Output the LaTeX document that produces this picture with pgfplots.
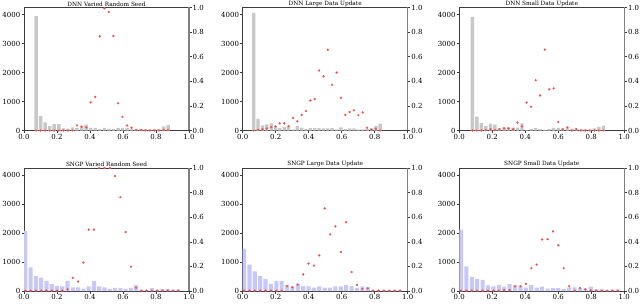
\documentclass[border=0pt]{standalone}
\usepackage{pgfplots}
\usepackage{pgfplotstable}
\pgfplotsset{compat=1.18}
\usepackage{fontspec}
\setmainfont{DejaVu Serif}
\definecolor{dnnbar}{RGB}{200,200,200}
\definecolor{sngpbar}{RGB}{200,200,248}
\definecolor{ptred}{RGB}{238,30,30}
\definecolor{spine}{RGB}{60,60,60}

\pgfplotstableread{
x bar pt
0.073 3950 0.0
0.101 500 0.0
0.128 284 0.0
0.156 150 0.0
0.183 220 0.0
0.211 220 0.0
0.239 70 0.0
0.266 60 0.0
0.294 110 0.0
0.321 80 0.041
0.349 170 0.030
0.377 200 0.025
0.404 90 0.229
0.432 90 0.273
0.459 60 0.765
0.487 90 0.994
0.514 60 0.964
0.542 50 0.768
0.570 90 0.221
0.597 90 0.110
0.625 90 0.041
0.652 60 0.022
0.680 60 0.003
0.708 60 0.004
0.735 50 0.0
0.763 40 0.0
0.790 60 0.0
0.818 60 0.0
0.846 140 0.004
0.873 190 0.003
}\dnnseed

\pgfplotstableread{
x bar pt
0.067 4060 0.0
0.093 400 0.006
0.120 180 0.011
0.146 210 0.017
0.173 250 0.028
0.199 130 0.033
0.225 90 0.058
0.252 120 0.058
0.278 150 0.036
0.305 40 0.102
0.331 150 0.075
0.358 100 0.127
0.384 50 0.158
0.410 80 0.244
0.437 80 0.255
0.463 80 0.488
0.490 70 0.440
0.516 70 0.657
0.542 80 0.371
0.569 40 0.471
0.595 110 0.266
0.622 60 0.127
0.648 70 0.150
0.674 70 0.164
0.701 30 0.125
0.727 40 0.147
0.754 60 0.022
0.780 80 0.006
0.807 150 0.014
0.833 240 0.0
}\dnnlarge

\pgfplotstableread{
x bar pt
0.079 3930 0.0
0.106 477 0.0
0.134 260 0.0
0.161 160 0.003
0.189 240 0.011
0.216 205 0.003
0.243 80 0.011
0.271 110 0.017
0.298 110 0.017
0.326 100 0.011
0.353 100 0.064
0.380 250 0.033
0.408 20 0.227
0.435 55 0.193
0.463 80 0.409
0.490 50 0.285
0.518 20 0.657
0.545 50 0.334
0.572 90 0.343
0.600 90 0.069
0.627 90 0.008
0.655 70 0.025
0.682 45 0.0
0.709 55 0.011
0.737 35 0.0
0.764 40 0.0
0.792 40 0.0
0.819 70 0.0
0.846 125 0.0
0.874 170 0.0
}\dnnsmall

\pgfplotstableread{
x bar pt
0.008 2080 0.003
0.040 818 0.003
0.072 511 0.003
0.104 466 0.003
0.136 352 0.003
0.168 250 0.003
0.200 170 0.003
0.232 160 0.003
0.264 341 0.014
0.296 125 0.107
0.328 125 0.077
0.360 80 0.231
0.392 160 0.499
0.424 341 0.499
0.456 160 1.0
0.488 125 1.0
0.520 70 1.0
0.552 110 0.934
0.584 110 0.763
0.616 70 0.479
0.648 110 0.198
0.679 200 0.028
0.711 40 0.003
0.743 30 0.003
0.775 100 0.003
0.807 50 0.003
0.839 70 0.003
0.871 70 0.003
0.903 50 0.003
0.935 50 0.003
}\sngpseed

\pgfplotstableread{
x bar pt
0.008 1460 0.003
0.041 909 0.003
0.073 682 0.003
0.106 511 0.003
0.138 409 0.003
0.171 250 0.003
0.204 341 0.003
0.236 341 0.003
0.269 205 0.039
0.301 160 0.030
0.334 240 0.052
0.367 170 0.135
0.399 160 0.223
0.432 114 0.207
0.464 160 0.289
0.497 114 0.672
0.530 114 0.460
0.562 160 0.526
0.595 160 0.317
0.627 216 0.559
0.660 170 0.154
0.693 102 0.050
0.725 160 0.017
0.758 136 0.022
0.790 34 0.003
0.823 34 0.003
0.856 34 0.003
0.888 34 0.003
0.921 34 0.003
0.953 34 0.003
}\sngplarge

\pgfplotstableread{
x bar pt
0.010 2125 0.003
0.043 852 0.003
0.076 489 0.003
0.108 420 0.003
0.141 386 0.003
0.174 193 0.003
0.207 160 0.003
0.240 216 0.003
0.272 148 0.008
0.305 240 0.008
0.338 193 0.039
0.371 170 0.039
0.404 114 0.058
0.436 205 0.185
0.469 114 0.215
0.502 148 0.419
0.535 80 0.421
0.568 100 0.485
0.600 100 0.372
0.633 68 0.185
0.666 125 0.039
0.699 125 0.003
0.732 100 0.025
0.764 80 0.014
0.797 148 0.005
0.830 57 0.003
0.863 57 0.003
0.896 34 0.003
0.928 45 0.003
0.961 57 0.003
}\sngpsmall

\pgfplotsset{
  base/.style={
    scale only axis, width=165pt, height=123pt,
    xmin=0, xmax=1, anchor=south west,
    tick label style={font=\fontsize{7}{8}\selectfont, inner sep=1pt},
    /pgf/number format/assume math mode=true,
    tick align=outside, major tick length=2.5pt,
    every tick/.style={spine, line width=0.5pt},
  },
  leftax/.style={base,
    ymin=0, ymax=4250, ytick={0,1000,2000,3000,4000},
    axis line style={spine, line width=0.6pt},
    xtick={0,0.2,0.4,0.6,0.8,1.0}, xtick pos=bottom, ytick pos=left,
    xticklabel style={/pgf/number format/.cd,fixed,fixed zerofill,precision=1},
    yticklabel style={/pgf/number format/.cd,fixed,set thousands separator={}},
    every axis title shift=0pt,
    title style={font=\fontsize{5.8}{6.5}\selectfont, at={(0.5,1)}, anchor=south, inner sep=0.8pt},
    clip=true,
  },
  rightax/.style={base,
    ymin=0, ymax=1, axis x line=none, axis y line*=right,
    y axis line style={gray, line width=1.2pt, -},
    ytick={0,0.2,0.4,0.6,0.8,1.0},
    yticklabel style={/pgf/number format/.cd,fixed,fixed zerofill,precision=1},
    clip=false,
  },
}

\newcommand{\panel}[6]{%
  \begin{axis}[leftax, at={(#1,#2)}, title={#3}]
    \addplot[ybar, fill=#4, draw=none, bar width=#6] table[x=x,y=bar]{#5};
  \end{axis}
  \begin{axis}[rightax, at={(#1,#2)}]
    \addplot[only marks, mark=*, mark size=0.95pt, ptred, mark options={draw=ptred!70!white}] table[x=x,y=pt]{#5};
  \end{axis}%
}

\begin{document}
\begin{tikzpicture}
\useasboundingbox (0,0) rectangle (640pt,303pt);
\panel{24pt}{172.5pt}{DNN Varied Random Seed}{dnnbar}{\dnnseed}{0.021}
\panel{242.7pt}{172.5pt}{DNN Large Data Update}{dnnbar}{\dnnlarge}{0.020}
\panel{459.3pt}{172.5pt}{DNN Small Data Update}{dnnbar}{\dnnsmall}{0.021}
\panel{24pt}{12pt}{SNGP Varied Random Seed}{sngpbar}{\sngpseed}{0.025}
\panel{242.7pt}{12pt}{SNGP Large Data Update}{sngpbar}{\sngplarge}{0.025}
\panel{459.3pt}{12pt}{SNGP Small Data Update}{sngpbar}{\sngpsmall}{0.025}
\end{tikzpicture}
\end{document}
